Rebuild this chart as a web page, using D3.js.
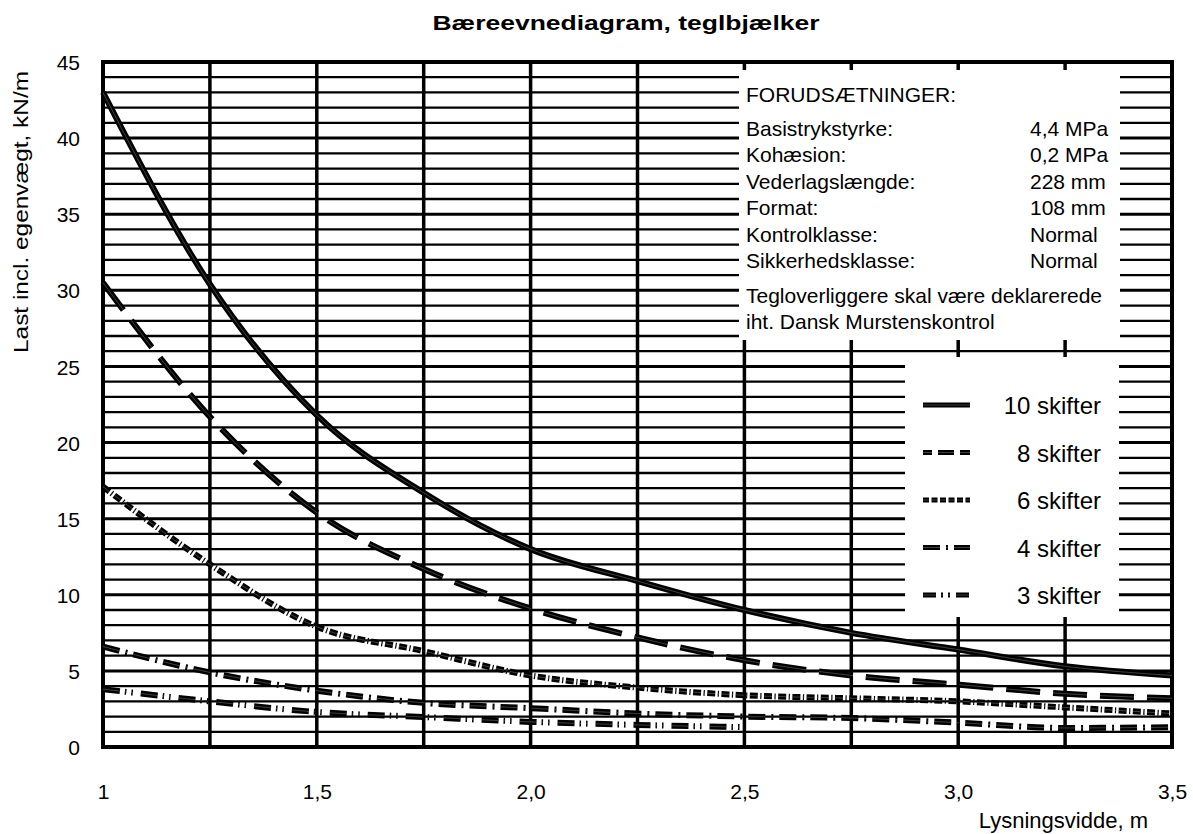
<!DOCTYPE html>
<html lang="da">
  <head>
    <meta charset="UTF-8" />
    <title>Bæreevnediagram, teglbjælker</title>
    <script src="https://d3js.org/d3.v7.min.js"></script>
    <style>
      body { margin: 0; background: #fff; }
      svg text { font-family: "Liberation Sans", Arial, sans-serif; fill: #000; }
    </style>
  </head>
  <body>
    <svg width="1193" height="834"></svg>
    <script>
      // spans (m) and loads (kN/m)
      var spans = [1, 1.25, 1.5, 1.75, 2, 2.25, 2.5, 2.75, 3, 3.25, 3.5];
      var skifter10 = [43, 30.4, 21.8, 16.7, 13.0, 10.9, 9.0, 7.5, 6.4, 5.3, 4.7];
      var skifter8 = [30.5, 21.7, 15.4, 11.7, 9.1, 7.2, 5.7, 4.7, 4.1, 3.5, 3.2];
      var skifter6 = [17.1, 12.0, 7.9, 6.3, 4.7, 3.9, 3.4, 3.2, 3.0, 2.6, 2.2];
      var skifter4 = [6.6, 4.9, 3.7, 2.9, 2.55, 2.2, 2.0, 1.9, 1.6, 1.25, 1.3];
      var skifter3 = [3.8, 3.0, 2.3, 1.97, 1.65, 1.45, 1.3]; // stops at 2,5 m

      var seriesNames = ["10 skifter", "8 skifter", "6 skifter", "4 skifter", "3 skifter"];
      var seriesValues = [skifter10, skifter8, skifter6, skifter4, skifter3];

      var xTicks = [1, 1.5, 2, 2.5, 3, 3.5];
      var xTickLabels = ["1", "1,5", "2,0", "2,5", "3,0", "3,5"];
      var yTicks = [0, 5, 10, 15, 20, 25, 30, 35, 40, 45];

      var infoRows = [
        ["Basistrykstyrke:", "4,4 MPa"],
        ["Kohæsion:", "0,2 MPa"],
        ["Vederlagslængde:", "228 mm"],
        ["Format:", "108 mm"],
        ["Kontrolklasse:", "Normal"],
        ["Sikkerhedsklasse:", "Normal"],
      ];

      // dash patterns: plot line / legend sample
      var dashPlot = [null, "34 13", "8 2.5 1.2 2.5", "17 6 2 6", "17 5 1.5 5 1.5 8"];
      var dashLegend = [null, "16 6", "6 2.5", "17 6 2 6", "13 5 2 5 2 6"];
      var legendOffset = [0, 7, 0, 0, 0];

      var svg = d3.select("svg");
      var plotLeft = 103, plotRight = 1172, plotTop = 62, plotBottom = 747;

      var x = d3.scaleLinear().domain([1, 3.5]).range([plotLeft, plotRight]);
      var y = d3.scaleLinear().domain([0, 45]).range([plotBottom, plotTop]);

      // title
      svg.append("text")
        .attr("x", 626)
        .attr("y", 30)
        .attr("text-anchor", "middle")
        .attr("font-size", 21)
        .attr("font-weight", "bold")
        .attr("textLength", 387)
        .attr("lengthAdjust", "spacingAndGlyphs")
        .text("Bæreevnediagram, teglbjælker");

      // grid
      var grid = svg.append("g");
      grid.selectAll("line.h")
        .data(d3.range(1, 45))
        .join("line")
        .attr("class", "h")
        .attr("x1", plotLeft).attr("x2", plotRight)
        .attr("y1", (d) => y(d)).attr("y2", (d) => y(d))
        .attr("stroke", "#000")
        .attr("stroke-width", (d) => (d % 5 === 0 ? 3 : 2.3));

      grid.selectAll("line.v")
        .data(d3.range(1.25, 3.5, 0.25))
        .join("line")
        .attr("class", "v")
        .attr("x1", (d) => x(d)).attr("x2", (d) => x(d))
        .attr("y1", plotTop).attr("y2", plotBottom)
        .attr("stroke", "#000")
        .attr("stroke-width", 3.5);

      // axes labels
      var xAxis = d3.axisBottom(x).tickValues(xTicks).tickSize(0)
        .tickFormat((d, i) => xTickLabels[i]);
      var gx = svg.append("g").attr("transform", "translate(0," + plotBottom + ")").call(xAxis);
      gx.select(".domain").remove();
      gx.attr("font-size", 21).attr("font-family", null);
      gx.selectAll("text").attr("dy", 0).attr("y", 52);

      var yAxis = d3.axisLeft(y).tickValues(yTicks).tickSize(0);
      var gy = svg.append("g").attr("transform", "translate(" + plotLeft + ",0)").call(yAxis);
      gy.select(".domain").remove();
      gy.attr("font-size", 21).attr("font-family", null);
      gy.selectAll("text").attr("x", -23).attr("dy", "0.36em");
      svg.selectAll(".tick text").attr("fill", "#000");

      svg.append("text")
        .attr("x", 1148)
        .attr("y", 828)
        .attr("text-anchor", "end")
        .attr("font-size", 22)
        .text("Lysningsvidde, m");

      svg.append("text")
        .attr("transform", "translate(28,212) rotate(-90)")
        .attr("text-anchor", "middle")
        .attr("font-size", 21)
        .attr("textLength", 282)
        .attr("lengthAdjust", "spacingAndGlyphs")
        .text("Last incl. egenvægt, kN/m");

      // white boxes hiding the grid
      svg.append("rect").attr("x", 739).attr("y", 70).attr("width", 381).attr("height", 270).attr("fill", "#fff");
      svg.append("rect").attr("x", 905).attr("y", 357).attr("width", 214).attr("height", 260).attr("fill", "#fff");

      // frame
      svg.append("rect")
        .attr("x", plotLeft).attr("y", plotTop)
        .attr("width", plotRight - plotLeft).attr("height", plotBottom - plotTop)
        .attr("fill", "none")
        .attr("stroke", "#000")
        .attr("stroke-width", 4);

      // curves
      var line = d3.line()
        .x((d) => x(d[0]))
        .y((d) => y(d[1]))
        .curve(d3.curveMonotoneX);

      var curves = svg.append("g");
      seriesValues.forEach(function (vals, i) {
        var pts = vals.map((v, j) => [spans[j], v]);
        curves.append("path")
          .attr("d", line(pts))
          .attr("fill", "none")
          .attr("stroke", "#000")
          .attr("stroke-width", 6)
          .attr("stroke-dasharray", dashPlot[i]);
        curves.append("path")
          .attr("d", line(pts))
          .attr("fill", "none")
          .attr("stroke", "#6a6a6a")
          .attr("stroke-width", 0.6)
          .attr("stroke-dasharray", dashPlot[i]);
      });

      // info box text
      var info = svg.append("g").attr("font-size", 21);
      info.append("text").attr("x", 746).attr("y", 102).attr("font-size", 21).text("FORUDSÆTNINGER:");
      infoRows.forEach(function (r, i) {
        var yy = 136 + i * 26.4;
        info.append("text").attr("x", 746).attr("y", yy).attr("font-size", 21).text(r[0]);
        info.append("text").attr("x", 1030).attr("y", yy).attr("font-size", 21).text(r[1]);
      });
      info.append("text").attr("x", 746).attr("y", 303).attr("font-size", 21).text("Tegloverliggere skal være deklarerede");
      info.append("text").attr("x", 746).attr("y", 329).attr("font-size", 21).text("iht. Dansk Murstenskontrol");

      // legend
      var legend = svg.append("g");
      seriesNames.forEach(function (name, i) {
        var ly = 405 + i * 47.5;
        legend.append("line")
          .attr("x1", 923).attr("x2", 970)
          .attr("y1", ly).attr("y2", ly)
          .attr("stroke", "#000")
          .attr("stroke-width", 5)
          .attr("stroke-dasharray", dashLegend[i])
          .attr("stroke-dashoffset", legendOffset[i]);
        legend.append("line")
          .attr("x1", 923).attr("x2", 970)
          .attr("y1", ly).attr("y2", ly)
          .attr("stroke", "#6a6a6a")
          .attr("stroke-width", 0.6)
          .attr("stroke-dasharray", dashLegend[i])
          .attr("stroke-dashoffset", legendOffset[i]);
        legend.append("text")
          .attr("x", 1101).attr("y", ly + 9)
          .attr("text-anchor", "end")
          .attr("font-size", 24)
          .text(name);
      });
    </script>
  </body>
</html>
